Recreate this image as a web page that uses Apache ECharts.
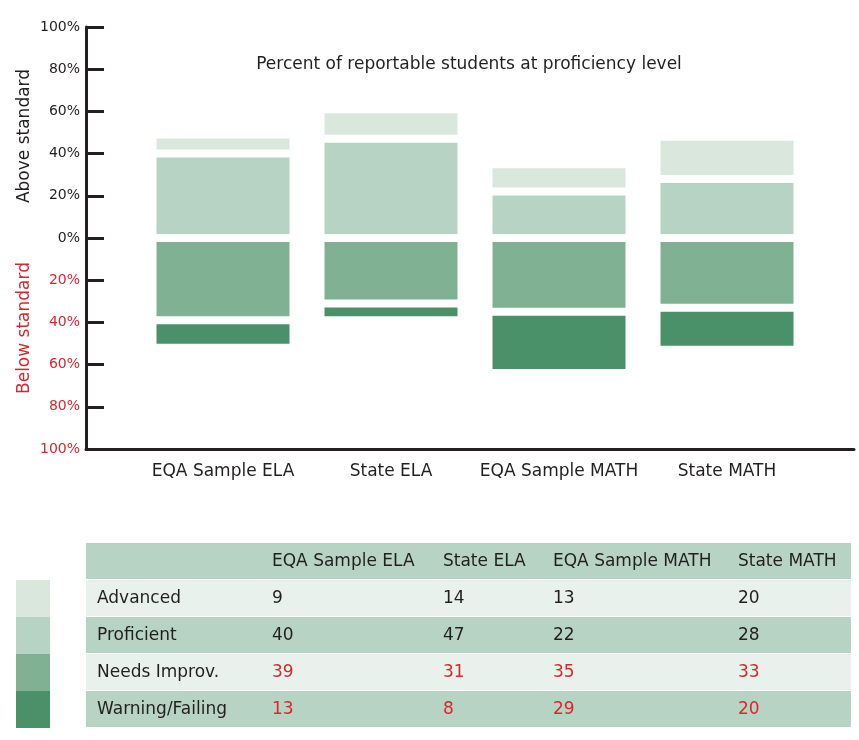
<!DOCTYPE html>
<html>
<head>
<meta charset="utf-8">
<title>Percent of reportable students at proficiency level</title>
<script src="https://cdn.jsdelivr.net/npm/echarts@6/dist/echarts.min.js"></script>
<style>
  html, body { margin: 0; padding: 0; background: #fff; }
  #chart { width: 859px; height: 740px; }
</style>
</head>
<body>
<div id="chart"></div>
<script>
// data
var categories = ['EQA Sample ELA', 'State ELA', 'EQA Sample MATH', 'State MATH'];
var levels = ['Advanced', 'Proficient', 'Needs Improv.', 'Warning/Failing'];
var advanced = [9, 14, 13, 20];
var proficient = [40, 47, 22, 28];
var needsImprov = [39, 31, 35, 33];
var warningFailing = [13, 8, 29, 20];

var colors = ['#d9e7dd', '#b7d3c3', '#80b193', '#4a9169'];
var dark = '#231f20';
var red = '#d7282f';
var font = '"DejaVu Sans", "Open Sans", sans-serif';

var chart = echarts.init(document.getElementById('chart'));

// table under the chart, built from the arrays above
function buildTable() {
  var els = [];
  var left = 86, width = 765, top = 543, rowH = 37;
  var colX = [272, 443, 553, 738];
  var rows = [advanced, proficient, needsImprov, warningFailing];
  var rowFill = ['#b7d3c3', '#e8f1ec', '#b7d3c3', '#e8f1ec', '#b7d3c3'];

  for (var r = 0; r < 5; r++) {
    els.push({
      type: 'rect',
      shape: { x: left, y: top + r * rowH, width: width, height: rowH - 1 },
      style: { fill: rowFill[r] }
    });
  }
  categories.forEach(function (c, i) {
    els.push({
      type: 'text', x: colX[i], y: top + rowH / 2,
      style: { text: c, fill: dark, font: '17px ' + font, verticalAlign: 'middle' }
    });
  });
  rows.forEach(function (vals, r) {
    var y = top + (r + 1) * rowH + rowH / 2;
    els.push({
      type: 'text', x: 97, y: y,
      style: { text: levels[r], fill: dark, font: '17px ' + font, verticalAlign: 'middle' }
    });
    vals.forEach(function (v, i) {
      els.push({
        type: 'text', x: colX[i], y: y,
        style: { text: String(v), fill: r < 2 ? dark : red, font: '17px ' + font, verticalAlign: 'middle' }
      });
    });
  });
  return els;
}

// white border gives the gaps between the stacked pieces
var barStyle = function (i) {
  return { color: colors[i], borderColor: '#fff', borderWidth: 4 };
};

var option = {
  backgroundColor: '#fff',
  animation: false,
  title: {
    text: 'Percent of reportable students at proficiency level',
    left: 464, top: 51, textAlign: 'center',
    textStyle: { fontFamily: font, fontSize: 17, fontWeight: 'normal', color: dark }
  },
  legend: {
    data: levels,
    orient: 'vertical',
    left: 16, top: 580,
    itemWidth: 34, itemHeight: 37, itemGap: 0,
    icon: 'rect',
    padding: 0,
    selectedMode: false,
    formatter: function () { return ''; },
    itemStyle: { borderWidth: 0 }
  },
  grid: [
    { left: 86, right: 5, top: 27, bottom: 291 },
    { left: 139, right: 48, top: 27, bottom: 291 }
  ],
  xAxis: [
    {
      gridIndex: 0, type: 'category', data: [''],
      axisLine: { onZero: false, lineStyle: { color: dark, width: 3 } },
      axisTick: { show: false }, axisLabel: { show: false }
    },
    {
      gridIndex: 1, type: 'category', data: categories,
      axisLine: { show: false, onZero: false }, axisTick: { show: false },
      axisLabel: { interval: 0, margin: 14, fontFamily: font, fontSize: 17, color: dark }
    }
  ],
  yAxis: [
    {
      gridIndex: 0, type: 'value', min: -100, max: 100, interval: 20,
      splitLine: { show: false },
      axisLine: { show: true, lineStyle: { color: dark, width: 3 } },
      axisTick: { show: true, inside: true, length: 18, lineStyle: { color: dark, width: 3 } },
      axisLabel: {
        margin: 6, fontFamily: font, fontSize: 14,
        formatter: function (v) { return Math.abs(v) + '%'; },
        color: function (v) { return Number(v) < 0 ? red : dark; }
      }
    },
    {
      gridIndex: 1, type: 'value', min: -100, max: 100, interval: 20,
      show: false
    }
  ],
  graphic: [
    {
      type: 'text', x: 25, y: 136, rotation: Math.PI / 2,
      style: { text: 'Above standard', fill: dark, font: '17px ' + font, align: 'center', verticalAlign: 'middle' }
    },
    {
      type: 'text', x: 25, y: 328, rotation: Math.PI / 2,
      style: { text: 'Below standard', fill: red, font: '17px ' + font, align: 'center', verticalAlign: 'middle' }
    }
  ].concat(buildTable()),
  series: [
    {
      name: 'Proficient', type: 'bar', stack: 'total', xAxisIndex: 1, yAxisIndex: 1,
      barWidth: 141, data: proficient, itemStyle: barStyle(1)
    },
    {
      name: 'Advanced', type: 'bar', stack: 'total', xAxisIndex: 1, yAxisIndex: 1,
      barWidth: 141, data: advanced, itemStyle: barStyle(0)
    },
    {
      name: 'Needs Improv.', type: 'bar', stack: 'total', xAxisIndex: 1, yAxisIndex: 1,
      barWidth: 141, data: needsImprov.map(function (v) { return -v; }), itemStyle: barStyle(2)
    },
    {
      name: 'Warning/Failing', type: 'bar', stack: 'total', xAxisIndex: 1, yAxisIndex: 1,
      barWidth: 141, data: warningFailing.map(function (v) { return -v; }), itemStyle: barStyle(3)
    }
  ]
};

chart.setOption(option);
</script>
</body>
</html>
